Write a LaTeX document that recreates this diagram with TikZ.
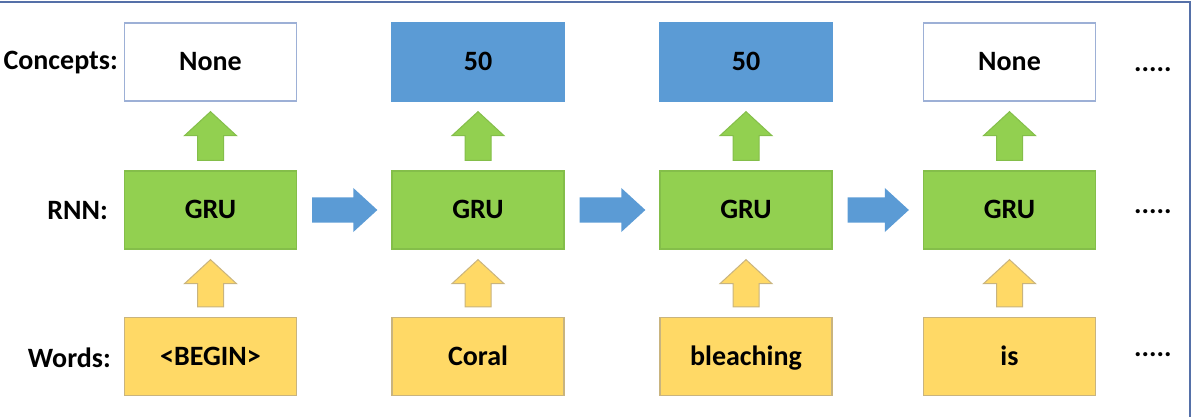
\documentclass[tikz,border=0pt]{standalone}
\usepackage{fontspec}
\setmainfont{Carlito}
\usetikzlibrary{calc}

\definecolor{hitblue}{HTML}{5B9BD5}
\definecolor{noneedge}{HTML}{9DB0D6}
\definecolor{grugreen}{HTML}{92D050}
\definecolor{gruedge}{HTML}{84BE4A}
\definecolor{wordyellow}{HTML}{FFD966}
\definecolor{wordedge}{HTML}{C9B47E}
\definecolor{frame}{HTML}{5570A8}

\begin{document}
\begin{tikzpicture}[
  x=1pt, y=-1pt,
  font=\bfseries\fontsize{28}{32}\selectfont,
  box/.style={rectangle, minimum width=172pt, minimum height=78pt, inner sep=0pt,
    text height=21pt, text depth=4pt, line width=1.3pt},
  none/.style={box, draw=noneedge, fill=white},
  hit/.style={box, draw=hitblue, fill=hitblue},
  gru/.style={box, draw=gruedge, fill=grugreen},
  word/.style={box, draw=wordedge, fill=wordyellow},
  rowlbl/.style={anchor=east, inner sep=0pt},
  more/.style={anchor=west, inner sep=0pt},
  % block arrows built between two named nodes
  uparrow/.style={line width=1pt, to path={
      let \p1=($(\tikztostart.north)+(0,10pt)$), \p2=($(\tikztotarget.south)+(0,-10pt)$) in
      (\x1-13pt,\y1) -- (\x1-13pt,\y2-24pt) -- (\x1-26pt,\y2-24pt) -- (\x1,\y2)
      -- (\x1+26pt,\y2-24pt) -- (\x1+13pt,\y2-24pt) -- (\x1+13pt,\y1) -- cycle}},
  rightarrow/.style={draw=none, fill=hitblue, to path={
      let \p1=($(\tikztostart.east)+(15pt,0)$), \p2=($(\tikztotarget.west)+(-14pt,0)$) in
      (\x1,\y1-12.5pt) -- (\x2-24pt,\y1-12.5pt) -- (\x2-24pt,\y1-22pt) -- (\x2,\y1)
      -- (\x2-24pt,\y1+22pt) -- (\x2-24pt,\y1+12.5pt) -- (\x1,\y1+12.5pt) -- cycle}},
]
  \useasboundingbox (0,0) rectangle (1192,417);

  % frame, cut on the left and at the bottom
  \draw[frame, line width=2.5pt] (0,2) -- (1190,2) -- (1190,417);

  % row labels
  \node[rowlbl] (lconcept) at (118,63) {Concepts:};
  \node[rowlbl] (lrnn) at (108,211) {RNN:};
  \node[rowlbl] (lwords) at (111,358) {Words:};

  % one column per time step
  \foreach \i/\x/\cstyle/\concept/\word in {1/210.5/none/None/<BEGIN>, 2/478/hit/50/Coral,
      3/746/hit/50/bleaching, 4/1009.5/none/None/is} {
    \node[\cstyle] (c\i) at (\x,62) {\concept};
    \node[gru] (g\i) at (\x,210) {GRU};
    \node[word] (w\i) at (\x,356.5) {\word};
    \draw[uparrow, draw=gruedge, fill=grugreen] (g\i) to (c\i);
    \draw[uparrow, draw=wordedge, fill=wordyellow] (w\i) to (g\i);
  }

  \foreach \i [evaluate=\i as \j using {int(\i + 1)}] in {1, 2, 3}
    \draw[rightarrow] (g\i) to (g\j);

  % sequence goes on
  \foreach \y [count=\k] in {70, 212, 355}
    \node[more] (more\k) at (1134,\y) {.....};
\end{tikzpicture}
\end{document}
